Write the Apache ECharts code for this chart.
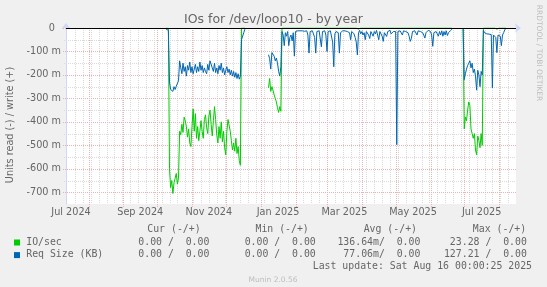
<!DOCTYPE html>
<html><head><meta charset="utf-8">
<script src="https://cdn.jsdelivr.net/npm/echarts@6/dist/echarts.min.js"></script>
<style>html,body{margin:0;padding:0;background:#F0F0F0;}#c{width:547px;height:287px;}</style>
</head><body><div id="c"></div>
<script>
// ---------- texts ----------
const chartTitle = 'IOs for /dev/loop10 - by year';
const yAxisName = 'Units read (-) / write (+)';
const watermark = 'RRDTOOL / TOBI OETIKER';
const footer = 'Munin 2.0.56';
const lastUpdate = 'Last update: Sat Aug 16 00:00:25 2025';

// ---------- axes ----------
const rangeStart = '2024-07-12';
const rangeEnd = '2025-08-16';
const yMin = -750, yMax = 0;
const yMajorTicks = [0, -100, -200, -300, -400, -500, -600, -700];
const yMinorTicks = [-50, -150, -250, -350, -450, -550, -650];
const monthStarts = ['2024-08-01','2024-09-01','2024-10-01','2024-11-01','2024-12-01','2025-01-01','2025-02-01','2025-03-01','2025-04-01','2025-05-01','2025-06-01','2025-07-01','2025-08-01'];
const firstWeekLine = '2024-07-20';
const monthLabels = ['Jul 2024','Sep 2024','Nov 2024','Jan 2025','Mar 2025','May 2025','Jul 2025'];
const monthLabelMonths = ['2024-07','2024-09','2024-11','2025-01','2025-03','2025-05','2025-07'];

// ---------- data (values in milli-units, read side, daily) ----------
const seg1Start = '2024-10-09';
const reqRead1 = [-5,-8,-10,-230,-262,-255,-270,-250,-262,-248,
  -240,-225,-140,-170,-195,-150,-185,-165,-205,-160,
  -180,-145,-190,-165,-195,-175,-155,-190,-165,-185,
  -145,-180,-160,-190,-170,-185,-195,-155,-180,-140,
  -135,-170,-185,-150,-190,-170,-195,-160,-180,-150,
  -190,-170,-200,-180,-165,-190,-175,-200,-180,-205,
  -185,-210,-190,-215,-195,-218,-205,-50,-45,-20,-5];
const ioRead1 = [0,0,-2,-600,-680,-650,-705,-660,-640,-620,
  -665,-640,-440,-455,-410,-445,-380,-395,-420,-465,
  -430,-490,-505,-420,-345,-440,-365,-470,-420,-480,
  -440,-395,-440,-470,-390,-370,-425,-450,-375,-350,
  -410,-460,-395,-335,-390,-455,-490,-420,-470,-400,
  -485,-440,-510,-540,-440,-390,-385,-440,-480,-520,
  -490,-525,-470,-535,-505,-565,-585,0,0,0,0];

const seg2Start = '2025-01-08';
const reqRead2 = [-114,-130,-175,-105,-100,-120,-140,-128,-150,-185,-205,-165,
  -15,-30,-75,-20,-35,-15,-75,-40,-30,-55,
  -20,-120,-15,-12,-12,-12,-12,-12,-12,-12,
  -14,-12,-12,-30,-107,-15,-12,-12,-12,-40,
  -107,-15,-12,-12,-20,-80,-15,-12,-12,-30,
  -100,-15,-12,-12,-20,-60,-165,-25,-15,-12,
  -20,-107,-20,-15,-12,-12,-12,-12,-15,-12,
  -20,-50,-15,-12,-25,-40,-60,-115,-20,-10,
  -25,-15,-30,-20,-50,-15,-20,-30,-45,-15,
  -20,-35,-15,-25,-10,-30,-50,-15,-20,-35,
  -57,-20,-15,-36,-15,-20,-10,-25,-30,-15,
  -20,-15,-497,-15,-10,-12,-15,-30,-12,-10,
  -15,-12,-20,-35,-57,-45,-15,-20,-12,-15,
  -30,-12,-10,-15,-12,-20,-30,-43,-20,-12,
  -10,-12,-15,-30,-78,-20,-12,-15,-25,-35,
  -15,-30,-12,-35,-15,-30,-12,-32,-20,-12,
  -10,-5];
const ioRead2 = [-255,-215,-270,-250,-265,-285,-300,-315,-340,-360,-335,-355,
  0,0,0,0,0,0,0,0,0,0,0,0,0,0,0,0,0,0,0,0,
  0,0,0,0,0,0,0,0,0,0,0,0,0,0,0,0,0,0,0,0,
  0,0,0,0,0,0,0,0,0,0,0,0,0,0,0,0,0,0,0,0,
  0,0,0,0,0,0,0,0,-5,0,0,0,0,0,0,0,0,0,0,0,
  0,0,0,0,0,0,0,0,0,0,0,0,0,0,0,0,0,0,0,0,
  0,0,0,0,0,0,0,0,0,0,0,0,0,0,0,0,0,0,0,0,
  0,0,0,0,0,0,0,0,0,0,0,0,0,0,0,0,0,0,0,0,
  0,0,0,0,0,0,0,0,0,0,0,0];

const seg3Start = '2025-06-30';
const reqRead3 = [0,-220,-195,-175,-160,-150,-140,-170,-150,-190,
  -175,-205,-265,-180,-200,-250,-185,-200,-10,-20,
  -22,-25,-24,-26,-25,-28,-255,-30,-28,-40,
  -105,-30,-25,-35,-75,-30,-20,-8,-2];
const ioRead3 = [0,-430,-380,-395,-350,-315,-330,-430,-450,-470,
  -450,-520,-540,-460,-480,-510,-450,-500,0,0,
  0,0,0,0,0,0,0,0,0,0,
  -5,0,0,0,0,0,0,0,0];

// ---------- legend stats ----------
const statHeaders = ['Cur (-/+)', 'Min (-/+)', 'Avg (-/+)', 'Max (-/+)'];
const statNames = ['IO/sec', 'Req Size (KB)'];
const statColors = ['#00CC00', '#0066B3'];
const curVals = ['0.00 /  0.00', '0.00 /  0.00'];
const minVals = ['0.00 /  0.00', '0.00 /  0.00'];
const avgVals = ['136.64m/  0.00', '77.06m/  0.00'];
const maxVals = ['23.28 /  0.00', '127.21 /  0.00'];

// ---------- build ----------
const DAY = 86400000;
const toTime = s => Date.parse(s + 'T00:00:00Z');
const xMin = toTime(rangeStart), xMax = toTime(rangeEnd);
const nb = s => s.replace(/ /g, '\u00a0');

function buildData(segs) {
  const out = [];
  segs.forEach(([start, vals]) => {
    const t0 = toTime(start);
    vals.forEach((v, i) => out.push([t0 + i * DAY, v]));
    out.push([t0 + vals.length * DAY, '-']);
  });
  return out;
}
const ioData = buildData([[seg1Start, ioRead1], [seg2Start, ioRead2], [seg3Start, ioRead3]]);
const reqData = buildData([[seg1Start, reqRead1], [seg2Start, reqRead2], [seg3Start, reqRead3]]);

const weekLines = [];
for (let t = toTime(firstWeekLine); t < xMax; t += 7 * DAY) weekLines.push(t);
const monthLines = monthStarts.map(toTime).filter(t => t > xMin && t < xMax);
const labelMids = monthLabelMonths.map(m => {
  const [y, mo] = m.split('-').map(Number);
  const a = Date.UTC(y, mo - 1, 1), b = Date.UTC(y, mo, 1);
  return (a + b) / 2;
});

const FONT = '"DejaVu Sans"';
const MONO = '"DejaVu Sans Mono"';
const TXT = '#666666';
const MAJOR = '#ebb4b4';
const MINOR = '#d9d9d9';

function hGrid(values, color, ext, z) {
  return {
    type: 'custom', silent: true, clip: false, z, animation: false,
    data: values.map(v => [xMin, v]),
    renderItem(params, api) {
      const cs = params.coordSys;
      const y = Math.round(api.coord([xMin, api.value(1)])[1]) + 0.5;
      return { type: 'line', shape: { x1: cs.x - ext, y1: y, x2: cs.x + cs.width, y2: y },
        style: { stroke: color, lineWidth: 1, lineDash: [1, 1] } };
    }
  };
}
function vGrid(times, color, ext, z) {
  return {
    type: 'custom', silent: true, clip: false, z, animation: false,
    data: times.map(t => [t, yMin]),
    renderItem(params, api) {
      const cs = params.coordSys;
      const x = Math.round(api.coord([api.value(0), yMin])[0]) + 0.5;
      return { type: 'line', shape: { x1: x, y1: cs.y, x2: x, y2: cs.y + cs.height + ext },
        style: { stroke: color, lineWidth: 1, lineDash: [1, 1] } };
    }
  };
}

const graphics = [];
graphics.push({ type: 'text', x: 273.5, y: 19.5, style: { text: chartTitle, font: '12.5px ' + FONT, fill: TXT, align: 'center', verticalAlign: 'middle' } });
graphics.push({ type: 'text', x: 10.5, y: 125, rotation: Math.PI / 2, style: { text: yAxisName, font: '9.7px ' + FONT, fill: TXT, align: 'center', verticalAlign: 'middle' } });
graphics.push({ type: 'text', x: 538.5, y: 53, rotation: -Math.PI / 2, style: { text: watermark, font: '7.5px ' + FONT, fill: '#bdbdbd', align: 'center', verticalAlign: 'middle' } });
const headerRight = [200.6, 308.8, 417, 526.2];
statHeaders.forEach((h, i) => graphics.push({ type: 'text', x: headerRight[i], y: 229.2, style: { text: nb(h), font: '9.85px ' + MONO, fill: TXT, align: 'right', verticalAlign: 'middle' } }));
const valRight = [209.4, 315.8, 420.4, 526.9];
const rowY = [242, 254.6];
statNames.forEach((n, r) => {
  graphics.push({ type: 'rect', shape: { x: 14, y: rowY[r] - 2.5, width: 6, height: 6 }, style: { fill: statColors[r] } });
  graphics.push({ type: 'text', x: 26.2, y: rowY[r], style: { text: nb(n), font: '9.85px ' + MONO, fill: TXT, align: 'left', verticalAlign: 'middle' } });
  [curVals, minVals, avgVals, maxVals].forEach((arr, c) => graphics.push({ type: 'text', x: valRight[c], y: rowY[r], style: { text: nb(arr[r]), font: '9.85px ' + MONO, fill: TXT, align: 'right', verticalAlign: 'middle' } }));
});
graphics.push({ type: 'text', x: 532, y: 266.8, style: { text: nb(lastUpdate), font: '9.85px ' + MONO, fill: TXT, align: 'right', verticalAlign: 'middle' } });
graphics.push({ type: 'text', x: 273, y: 280, style: { text: footer, font: '7.5px ' + FONT, fill: '#bdbdbd', align: 'center', verticalAlign: 'middle' } });

const option = {
  animation: false,
  backgroundColor: '#F0F0F0',
  grid: { left: 66, top: 28, width: 450, height: 176, show: true, backgroundColor: '#FFFFFF', borderWidth: 0 },
  xAxis: {
    type: 'time', min: xMin, max: xMax,
    axisLine: { show: true, lineStyle: { color: '#CFD6F8', width: 1 }, symbol: ['none', 'arrow'], symbolSize: [7, 6], symbolOffset: [0, 5] },
    axisTick: { show: false }, axisLabel: { show: false }, splitLine: { show: false }
  },
  yAxis: {
    type: 'value', min: yMin, max: yMax, interval: 50,
    axisLine: { show: true, lineStyle: { color: '#CFD6F8', width: 1 }, symbol: ['none', 'arrow'], symbolSize: [7, 6], symbolOffset: [0, 5] },
    axisTick: { show: false }, splitLine: { show: false },
    axisLabel: {
      margin: 5, color: TXT, fontFamily: 'DejaVu Sans', fontSize: 9.7,
      formatter: v => (v % 100 !== 0 ? '' : (v === 0 ? '0\u00a0\u00a0' : v + '\u00a0m'))
    }
  },
  graphic: graphics,
  series: [
    vGrid(weekLines, MINOR, 0, 1),
    hGrid(yMinorTicks, MINOR, 2, 1),
    vGrid(monthLines, MAJOR, 3, 1),
    hGrid(yMajorTicks, MAJOR, 3, 1),
    {
      type: 'custom', silent: true, clip: false, z: 1, animation: false,
      data: labelMids.map(t => [t, yMin]),
      renderItem(params, api) {
        const x = api.coord([api.value(0), yMin])[0];
        return { type: 'text', x: x, y: 212, style: { text: monthLabels[params.dataIndex], font: '9.7px ' + FONT, fill: TXT, align: 'center', verticalAlign: 'middle' } };
      }
    },
    { type: 'line', name: 'IO/sec', data: ioData, showSymbol: false, symbol: 'none', z: 3, connectNulls: false,
      lineStyle: { color: '#00CC00', width: 1 }, itemStyle: { color: '#00CC00' } },
    { type: 'line', name: 'Req Size (KB)', data: reqData, showSymbol: false, symbol: 'none', z: 4, connectNulls: false,
      lineStyle: { color: '#0066B3', width: 1 }, itemStyle: { color: '#0066B3' } },
    {
      type: 'custom', silent: true, clip: false, z: 5, animation: false,
      data: [[xMin, 0]],
      renderItem(params, api) {
        const cs = params.coordSys;
        const y = Math.round(api.coord([xMin, 0])[1]) + 0.5;
        return { type: 'line', shape: { x1: cs.x, y1: y, x2: cs.x + cs.width, y2: y }, style: { stroke: '#000000', lineWidth: 1 } };
      }
    }
  ]
};
const chart = echarts.init(document.getElementById('c'), null, { width: 547, height: 287 });
chart.setOption(option);
</script>
</body></html>
